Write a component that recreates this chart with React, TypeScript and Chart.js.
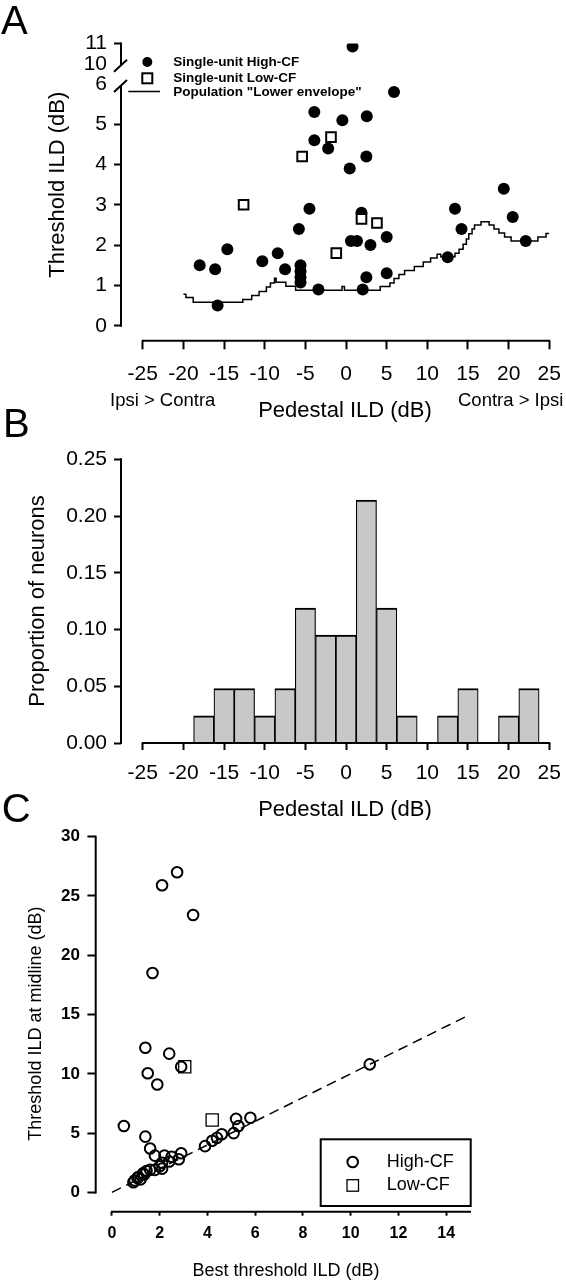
import React, { useEffect, useRef } from 'react';
import { Chart, registerables } from 'chart.js';

Chart.register(...registerables);

const FONT = '"Liberation Sans", Arial, Helvetica, sans-serif';

// ---------------- Panel A data ----------------
const pedestalTicks = [-25, -20, -15, -10, -5, 0, 5, 10, 15, 20, 25];
const thresholdTicksA = [0, 1, 2, 3, 4, 5, 6, 10, 11];

const highCfPedestal = [-18.0, -16.1, -15.8, -14.6, -10.3, -8.4, -7.5, -5.8, -5.6, -5.6, -5.6, -5.6, -4.5, -3.9, -3.9, -3.4, -2.2, -0.45, 0.45, 0.8, 0.6, 1.35, 1.9, 2.05, 2.5, 2.5, 2.55, 3.0, 5.0, 5.0, 5.9, 12.5, 13.4, 14.2, 19.4, 20.5, 22.1];
const highCfThreshold = [1.5, 1.4, 0.5, 1.9, 1.6, 1.8, 1.4, 2.4, 1.5, 1.35, 1.2, 1.07, 2.9, 5.3, 4.6, 0.9, 4.4, 5.1, 3.9, 10.85, 2.1, 2.1, 2.8, 0.9, 1.2, 4.2, 5.2, 2.0, 2.2, 1.3, 5.8, 1.7, 2.9, 2.4, 3.4, 2.7, 2.1];

const lowCfPedestal = [-12.6, -5.4, -1.85, -1.2, 1.9, 3.8];
const lowCfThreshold = [3.0, 4.2, 4.68, 1.8, 2.65, 2.55];

const envelopeX = [-20.0, -19.7, -18.8, -12.7, -11.6, -10.7, -9.8, -9.3, -8.8, -8.6, -7.4, -6.2, -0.5, -0.2, 4.2, 5.4, 5.9, 6.5, 7.2, 8.4, 9.5, 10.4, 11.2, 11.65, 13.4, 13.9, 14.4, 14.8, 15.1, 15.5, 15.8, 16.6, 17.6, 18.2, 18.8, 19.5, 20.3, 23.6, 24.6, 25.0];
const envelopeY = [0.78, 0.70, 0.58, 0.65, 0.75, 0.85, 0.96, 1.06, 1.18, 1.08, 0.98, 0.88, 0.97, 0.88, 0.97, 1.06, 1.17, 1.27, 1.37, 1.47, 1.58, 1.68, 1.77, 1.71, 1.80, 1.90, 2.02, 2.15, 2.28, 2.40, 2.50, 2.58, 2.50, 2.40, 2.30, 2.20, 2.10, 2.20, 2.29, 2.29];

// ---------------- Panel B data ----------------
const binCenters = [-22.5, -20, -17.5, -15, -12.5, -10, -7.5, -5, -2.5, 0, 2.5, 5, 7.5, 10, 12.5, 15, 17.5, 20, 22.5];
const proportions = [0, 0, 0.024, 0.048, 0.048, 0.024, 0.048, 0.119, 0.095, 0.095, 0.214, 0.119, 0.024, 0, 0.024, 0.048, 0, 0.024, 0.048];
const proportionTicks = [0, 0.05, 0.1, 0.15, 0.2, 0.25];

// ---------------- Panel C data ----------------
const cHighBest = [0.5, 0.9, 0.95, 1.07, 1.1, 1.2, 1.3, 1.35, 1.4, 1.4, 1.45, 1.5, 1.6, 1.6, 1.7, 1.8, 1.8, 1.9, 2.0, 2.1, 2.1, 2.1, 2.2, 2.4, 2.4, 2.5, 2.73, 2.8, 2.9, 2.9, 3.4, 3.9, 4.2, 4.4, 4.6, 5.1, 5.2, 5.3, 5.8, 10.8];
const cHighMidline = [5.6, 0.85, 1.0, 1.2, 1.3, 1.1, 1.6, 1.5, 12.2, 4.7, 1.8, 10.05, 3.7, 1.9, 18.5, 3.1, 1.9, 9.1, 2.2, 25.9, 2.5, 2.0, 3.1, 11.7, 2.6, 3.0, 27.0, 2.8, 10.6, 3.3, 23.4, 3.9, 4.35, 4.6, 4.9, 5.0, 6.2, 5.6, 6.3, 10.8];
const cLowBest = [3.05, 4.2];
const cLowMidline = [10.6, 6.1];
const unityX = [0, 15];
const unityY = [0, 15];
const cTicksX = [0, 2, 4, 6, 8, 10, 12, 14];
const cTicksY = [0, 5, 10, 15, 20, 25, 30];

// ---------------- helpers ----------------
const aY = (v: number) => (v <= 6 ? v : 6.5 + (v - 10) * 0.5);
const aLabels: Record<string, string> = {};
thresholdTicksA.forEach((v) => (aLabels[String(aY(v))] = String(v)));

function fixBox(width?: number, height?: number) {
  return (scale: any) => {
    if (width !== undefined) scale.width = width;
    if (height !== undefined) scale.height = height;
    scale.paddingLeft = 0;
    scale.paddingRight = 0;
    scale.paddingTop = 0;
    scale.paddingBottom = 0;
  };
}

function setTicks(values: number[]) {
  return (scale: any) => {
    scale.ticks = values.map((v) => ({ value: v }));
  };
}

function line(ctx: CanvasRenderingContext2D, x1: number, y1: number, x2: number, y2: number, w = 2) {
  ctx.beginPath();
  ctx.lineWidth = w;
  ctx.moveTo(x1, y1);
  ctx.lineTo(x2, y2);
  ctx.stroke();
}

function text(ctx: CanvasRenderingContext2D, s: string, x: number, y: number, font: string, align: CanvasTextAlign = 'left', baseline: CanvasTextBaseline = 'alphabetic', rot = 0) {
  ctx.save();
  ctx.font = font;
  ctx.fillStyle = '#000';
  ctx.textAlign = align;
  ctx.textBaseline = baseline;
  ctx.translate(x, y);
  if (rot) ctx.rotate(rot);
  ctx.fillText(s, 0, 0);
  ctx.restore();
}

const tickGrid = (len: number, hide?: (v: number) => boolean) => ({
  display: true,
  drawOnChartArea: false,
  drawTicks: true,
  tickLength: len,
  tickWidth: 2,
  tickColor: (c: any) => (hide && c.tick && hide(c.tick.value) ? 'rgba(0,0,0,0)' : '#000'),
  offset: false,
});

const baseOptions = {
  animation: false as const,
  responsive: false,
  devicePixelRatio: 1,
  plugins: { legend: { display: false }, tooltip: { enabled: false } },
};

// ---------------- Panel A ----------------
function makeA(canvas: HTMLCanvasElement) {
  const extras = {
    id: 'extrasA',
    afterDraw(chart: any) {
      const { ctx, chartArea } = chart;
      const x = chart.scales.x;
      const y = chart.scales.y;
      ctx.save();
      ctx.strokeStyle = '#000';
      const ax = chartArea.left;
      // broken y axis
      const yLowTop = y.getPixelForValue(5.95);
      const yUpBottom = y.getPixelForValue(6.45);
      line(ctx, ax, y.getPixelForValue(0) + 1, ax, yLowTop);
      line(ctx, ax, yUpBottom, ax, y.getPixelForValue(7) - 1);
      line(ctx, ax - 7, yLowTop + 6, ax + 6, yLowTop - 6, 2);
      line(ctx, ax - 7, yUpBottom + 6, ax + 6, yUpBottom - 6, 2);
      // offset x axis
      const by = chartArea.bottom;
      line(ctx, x.getPixelForValue(-25) - 1, by, x.getPixelForValue(25) + 1, by);
      // legend
      ctx.fillStyle = '#000';
      ctx.beginPath();
      ctx.arc(147.3, 62, 5, 0, Math.PI * 2);
      ctx.fill();
      ctx.fillStyle = '#fff';
      ctx.fillRect(142.3, 73.3, 10, 10);
      ctx.lineWidth = 2;
      ctx.strokeRect(142.3, 73.3, 10, 10);
      line(ctx, 128.3, 91.5, 160, 91.5, 1.5);
      const lf = `bold 13.5px ${FONT}`;
      text(ctx, 'Single-unit High-CF', 173.3, 62, lf, 'left', 'middle');
      text(ctx, 'Single-unit Low-CF', 173.3, 78.3, lf, 'left', 'middle');
      text(ctx, 'Population "Lower envelope"', 173.3, 92, lf, 'left', 'middle');
      // titles & annotations
      text(ctx, 'A', 1, 33.5, `40px ${FONT}`);
      text(ctx, 'Threshold ILD (dB)', 57.8, 184.7, `22px ${FONT}`, 'center', 'middle', -Math.PI / 2);
      text(ctx, 'Ipsi > Contra', 110, 406, `18.5px ${FONT}`);
      text(ctx, 'Pedestal ILD (dB)', 345, 416.5, `22px ${FONT}`, 'center');
      text(ctx, 'Contra > Ipsi', 458, 406, `18.5px ${FONT}`);
      ctx.restore();
    },
  };
  return new Chart(canvas, {
    type: 'scatter',
    data: {
      datasets: [
        {
          type: 'line',
          label: 'Population "Lower envelope"',
          data: envelopeX.map((x, i) => ({ x, y: envelopeY[i] })),
          stepped: true,
          showLine: true,
          borderColor: '#000',
          borderWidth: 1.5,
          pointRadius: 0,
          fill: false,
          order: 2,
        } as any,
        {
          label: 'Single-unit High-CF',
          data: highCfPedestal.map((x, i) => ({ x, y: aY(highCfThreshold[i]) })),
          pointStyle: 'circle',
          pointRadius: 6,
          backgroundColor: '#000',
          borderColor: '#000',
          borderWidth: 0,
          order: 1,
        },
        {
          label: 'Single-unit Low-CF',
          data: lowCfPedestal.map((x, i) => ({ x, y: aY(lowCfThreshold[i]) })),
          pointStyle: 'rect',
          pointRadius: 6.8,
          backgroundColor: '#fff',
          borderColor: '#000',
          borderWidth: 2,
          order: 0,
        },
      ],
    },
    options: {
      ...baseOptions,
      layout: { padding: { top: 43.6, right: 16.7, left: 0, bottom: 0 } },
      scales: {
        x: {
          type: 'linear',
          min: -27.68,
          max: 25,
          afterBuildTicks: setTicks(pedestalTicks),
          afterFit: fixBox(undefined, 425 - 340.7),
          grid: tickGrid(8.6),
          border: { display: false },
          ticks: { color: '#000', font: { family: FONT, size: 21 }, padding: 12, maxRotation: 0, minRotation: 0, autoSkip: false },
        },
        y: {
          type: 'linear',
          min: -0.372,
          max: 7,
          afterBuildTicks: setTicks(thresholdTicksA.map(aY)),
          afterFit: fixBox(121, undefined),
          grid: tickGrid(7, (v) => v === 6 || v === 6.5),
          border: { display: false },
          ticks: {
            color: '#000',
            font: { family: FONT, size: 21 },
            padding: 7,
            autoSkip: false,
            callback: (v: any) => aLabels[String(v)] ?? '',
          },
        },
      },
    } as any,
    plugins: [extras],
  });
}

// ---------------- Panel B ----------------
function makeB(canvas: HTMLCanvasElement) {
  const extras = {
    id: 'extrasB',
    afterDraw(chart: any) {
      const { ctx, chartArea } = chart;
      const x = chart.scales.x;
      ctx.save();
      ctx.strokeStyle = '#000';
      line(ctx, chartArea.left, chartArea.top - 1, chartArea.left, chartArea.bottom + 1);
      line(ctx, x.getPixelForValue(-25) - 1, chartArea.bottom, x.getPixelForValue(25) + 1, chartArea.bottom);
      text(ctx, 'B', 3, 36.7, `40px ${FONT}`);
      text(ctx, 'Proportion of neurons', 38, 201, `22px ${FONT}`, 'center', 'middle', -Math.PI / 2);
      text(ctx, 'Pedestal ILD (dB)', 345, 416, `22px ${FONT}`, 'center');
      ctx.restore();
    },
  };
  return new Chart(canvas, {
    type: 'bar',
    data: {
      datasets: [
        {
          label: 'Proportion of neurons',
          data: binCenters.map((x, i) => ({ x, y: proportions[i] })),
          backgroundColor: '#c8c8c8',
          borderColor: '#000',
          borderWidth: { top: 2, left: 1.2, right: 1.2, bottom: 0 },
          borderSkipped: false,
          barPercentage: 1,
          categoryPercentage: 1,
        } as any,
      ],
    },
    options: {
      ...baseOptions,
      layout: { padding: { top: 59.3, right: 16.7, left: 0, bottom: 0 } },
      scales: {
        x: {
          type: 'linear',
          offset: false,
          min: -27.68,
          max: 25,
          afterBuildTicks: setTicks(pedestalTicks),
          afterFit: fixBox(undefined, 420 - 343),
          grid: tickGrid(7),
          border: { display: false },
          ticks: { color: '#000', font: { family: FONT, size: 21 }, padding: 10.4, maxRotation: 0, minRotation: 0, autoSkip: false },
        },
        y: {
          type: 'linear',
          min: 0,
          max: 0.25,
          afterBuildTicks: setTicks(proportionTicks),
          afterFit: fixBox(121, undefined),
          grid: tickGrid(7),
          border: { display: false },
          ticks: {
            color: '#000',
            font: { family: FONT, size: 21 },
            padding: 7,
            autoSkip: false,
            callback: (v: any) => Number(v).toFixed(2),
          },
        },
      },
    } as any,
    plugins: [extras],
  });
}

// ---------------- Panel C ----------------
function makeC(canvas: HTMLCanvasElement) {
  const extras = {
    id: 'extrasC',
    afterDraw(chart: any) {
      const { ctx, chartArea } = chart;
      const x = chart.scales.x;
      const y = chart.scales.y;
      ctx.save();
      ctx.strokeStyle = '#000';
      line(ctx, chartArea.left, y.getPixelForValue(0) + 1, chartArea.left, y.getPixelForValue(30) - 1);
      line(ctx, x.getPixelForValue(0) - 1, chartArea.bottom, x.getPixelForValue(15) + 1, chartArea.bottom);
      // legend box
      ctx.fillStyle = '#fff';
      ctx.fillRect(320.7, 359.3, 150, 66.7);
      ctx.lineWidth = 2;
      ctx.strokeRect(320.7, 359.3, 150, 66.7);
      ctx.beginPath();
      ctx.arc(352.7, 382, 5.3, 0, Math.PI * 2);
      ctx.stroke();
      ctx.lineWidth = 1.3;
      ctx.strokeRect(347, 399.7, 11.5, 11.5);
      text(ctx, 'High-CF', 386.7, 382, `18px ${FONT}`, 'left', 'middle');
      text(ctx, 'Low-CF', 386.7, 405.3, `18px ${FONT}`, 'left', 'middle');
      text(ctx, 'C', 1.7, 42, `40px ${FONT}`);
      text(ctx, 'Threshold ILD at midline (dB)', 35.8, 243.6, `18px ${FONT}`, 'center', 'middle', -Math.PI / 2);
      text(ctx, 'Best threshold ILD (dB)', 286, 496, `18px ${FONT}`, 'center');
      ctx.restore();
    },
  };
  return new Chart(canvas, {
    type: 'scatter',
    data: {
      datasets: [
        {
          type: 'line',
          label: 'Unity',
          data: unityX.map((x, i) => ({ x, y: unityY[i] })),
          showLine: true,
          borderColor: '#000',
          borderWidth: 1.5,
          borderDash: [10, 6],
          pointRadius: 0,
          fill: false,
          order: 2,
        } as any,
        {
          label: 'High-CF',
          data: cHighBest.map((x, i) => ({ x, y: cHighMidline[i] })),
          pointStyle: 'circle',
          pointRadius: 5.3,
          backgroundColor: 'rgba(0,0,0,0)',
          borderColor: '#000',
          borderWidth: 2,
          order: 1,
        },
        {
          label: 'Low-CF',
          data: cLowBest.map((x, i) => ({ x, y: cLowMidline[i] })),
          pointStyle: 'rect',
          pointRadius: 8.6,
          backgroundColor: 'rgba(0,0,0,0)',
          borderColor: '#000',
          borderWidth: 1.3,
          order: 0,
        },
      ],
    },
    options: {
      ...baseOptions,
      layout: { padding: { top: 56.7, right: 96, left: 0, bottom: 0 } },
      scales: {
        x: {
          type: 'linear',
          min: -0.68,
          max: 15,
          afterBuildTicks: setTicks(cTicksX),
          afterFit: fixBox(undefined, 500 - 431.7),
          grid: tickGrid(4),
          border: { display: false },
          ticks: { color: '#000', font: { family: FONT, size: 16, weight: 'bold' }, padding: 8.7, maxRotation: 0, minRotation: 0, autoSkip: false },
        },
        y: {
          type: 'linear',
          min: -1.63,
          max: 30,
          afterBuildTicks: setTicks(cTicksY),
          afterFit: fixBox(95.7, undefined),
          grid: tickGrid(8.3),
          border: { display: false },
          ticks: { color: '#000', font: { family: FONT, size: 17, weight: 'bold' }, padding: 7.4, autoSkip: false },
        },
      },
    } as any,
    plugins: [extras],
  });
}

export default function App() {
  const refA = useRef<HTMLCanvasElement>(null);
  const refB = useRef<HTMLCanvasElement>(null);
  const refC = useRef<HTMLCanvasElement>(null);

  useEffect(() => {
    const charts = [makeA(refA.current!), makeB(refB.current!), makeC(refC.current!)];
    return () => charts.forEach((c) => c.destroy());
  }, []);

  return (
    <div style={{ position: 'absolute', left: 0, top: 0, width: 566, height: 1280, background: '#fff', overflow: 'hidden' }}>
      <canvas ref={refA} width={566} height={425} style={{ position: 'absolute', left: 0, top: 0, width: 566, height: 425 }} />
      <canvas ref={refB} width={566} height={420} style={{ position: 'absolute', left: 0, top: 400, width: 566, height: 420 }} />
      <canvas ref={refC} width={566} height={500} style={{ position: 'absolute', left: 0, top: 780, width: 566, height: 500 }} />
    </div>
  );
}
